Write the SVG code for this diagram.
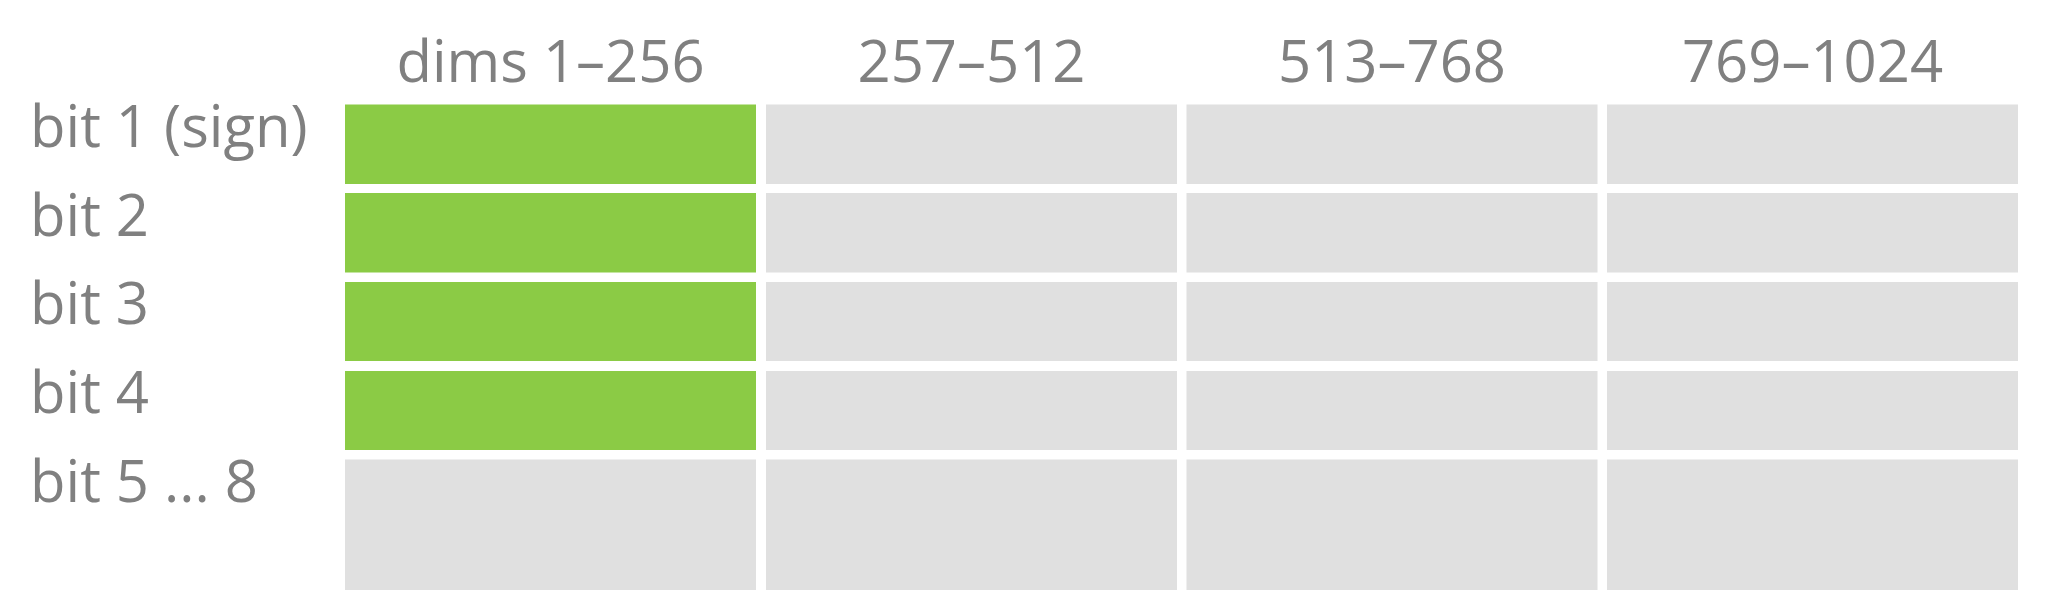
<svg xmlns="http://www.w3.org/2000/svg" width="2048" height="603" viewBox="0 0 2048 603">
<style>
.lbl{font-family:"Open Sans","Noto Sans","Liberation Sans",sans-serif;font-size:58px;fill:#808080}
.hdr{text-anchor:middle}
.g{fill:#8bcb45}
.e{fill:#e0e0e0}
</style>
<rect width="2048" height="603" fill="#ffffff"/>
<g id="headers">
<text class="lbl hdr" x="550.5" y="82">dims 1–256</text>
<text class="lbl hdr" x="971.5" y="82">257–512</text>
<text class="lbl hdr" x="1392" y="82">513–768</text>
<text class="lbl hdr" x="1812.5" y="82">769–1024</text>
</g>
<g id="row-labels">
<text class="lbl" x="30" y="147">bit 1 (sign)</text>
<text class="lbl" x="30" y="235.5">bit 2</text>
<text class="lbl" x="30" y="324">bit 3</text>
<text class="lbl" x="30" y="413">bit 4</text>
<text class="lbl" x="30" y="502">bit 5 ... 8</text>
</g>
<g id="row1">
<rect class="g" x="345" y="104.5" width="411" height="79.5"/>
<rect class="e" x="766" y="104.5" width="411" height="79.5"/>
<rect class="e" x="1186.5" y="104.5" width="411" height="79.5"/>
<rect class="e" x="1607" y="104.5" width="411" height="79.5"/>
</g>
<g id="row2">
<rect class="g" x="345" y="193" width="411" height="79.5"/>
<rect class="e" x="766" y="193" width="411" height="79.5"/>
<rect class="e" x="1186.5" y="193" width="411" height="79.5"/>
<rect class="e" x="1607" y="193" width="411" height="79.5"/>
</g>
<g id="row3">
<rect class="g" x="345" y="282" width="411" height="79"/>
<rect class="e" x="766" y="282" width="411" height="79"/>
<rect class="e" x="1186.5" y="282" width="411" height="79"/>
<rect class="e" x="1607" y="282" width="411" height="79"/>
</g>
<g id="row4">
<rect class="g" x="345" y="371" width="411" height="79"/>
<rect class="e" x="766" y="371" width="411" height="79"/>
<rect class="e" x="1186.5" y="371" width="411" height="79"/>
<rect class="e" x="1607" y="371" width="411" height="79"/>
</g>
<g id="row5">
<rect class="e" x="345" y="459.5" width="411" height="130.5"/>
<rect class="e" x="766" y="459.5" width="411" height="130.5"/>
<rect class="e" x="1186.5" y="459.5" width="411" height="130.5"/>
<rect class="e" x="1607" y="459.5" width="411" height="130.5"/>
</g>
<g id="connectors"></g>
</svg>
